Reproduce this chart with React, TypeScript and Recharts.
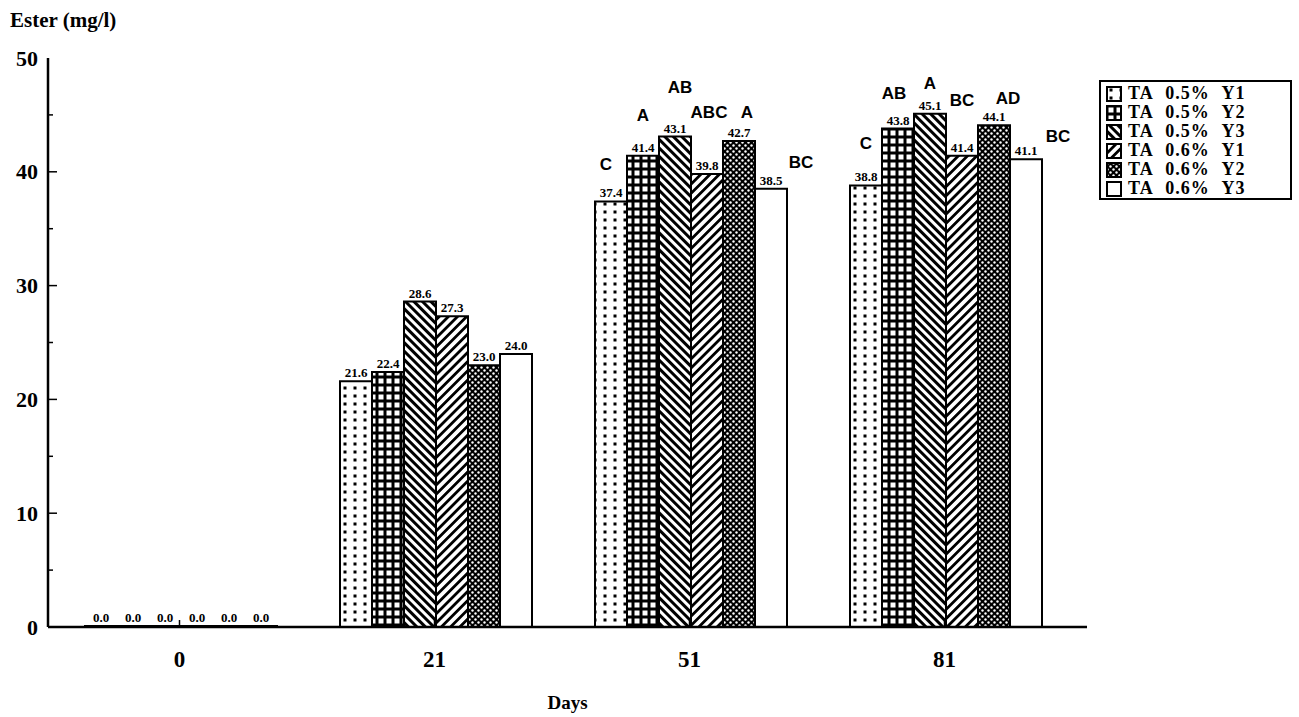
import React from 'react';
import { BarChart, Bar, XAxis, YAxis, LabelList } from 'recharts';

// ---- data ----
const days = ['0', '21', '51', '81'];
const seriesNames = ['TA 0.5% Y1', 'TA 0.5% Y2', 'TA 0.5% Y3', 'TA 0.6% Y1', 'TA 0.6% Y2', 'TA 0.6% Y3'];
const ta05Y1 = [0.0, 21.6, 37.4, 38.8];
const ta05Y2 = [0.0, 22.4, 41.4, 43.8];
const ta05Y3 = [0.0, 28.6, 43.1, 45.1];
const ta06Y1 = [0.0, 27.3, 39.8, 41.4];
const ta06Y2 = [0.0, 23.0, 42.7, 44.1];
const ta06Y3 = [0.0, 24.0, 38.5, 41.1];
const groups05Y1 = ['', '', 'C', 'C'];
const groups05Y2 = ['', '', 'A', 'AB'];
const groups05Y3 = ['', '', 'AB', 'A'];
const groups06Y1 = ['', '', 'ABC', 'BC'];
const groups06Y2 = ['', '', 'A', 'AD'];
const groups06Y3 = ['', '', 'BC', 'BC'];
const yTicks = [0, 5, 10, 15, 20, 25, 30, 35, 40, 45, 50];

const values = [ta05Y1, ta05Y2, ta05Y3, ta06Y1, ta06Y2, ta06Y3];
const letters = [groups05Y1, groups05Y2, groups05Y3, groups06Y1, groups06Y2, groups06Y3];

// annotation placement relative to bar top (dx, lift), keyed by day
const letterShift: Record<string, number[]>[] = [
  { '51': [-5, 37], '81': [0, 42] },
  { '51': [0, 40], '81': [-4, 35] },
  { '51': [5, 49], '81': [0, 30] },
  { '51': [2, 62], '81': [0, 55] },
  { '51': [8, 29], '81': [14, 27] },
  { '51': [30, 26], '81': [32, 23] },
];

const data = days.map((d, i) => {
  const row: any = { day: d };
  values.forEach((v, s) => {
    row['s' + s] = v[i];
    row['l' + s] = letters[s][i] ? d + '|' + letters[s][i] : '';
  });
  return row;
});

const SERIF = '"Liberation Serif", "Times New Roman", serif';
const SANS = '"Liberation Sans", Arial, sans-serif';

const Patterns = () => (
  <svg width={0} height={0} style={{ position: 'absolute' }}>
    <defs>
      <pattern id="pat0" patternUnits="userSpaceOnUse" width={10} height={8}>
        <rect width={10} height={8} fill="#fff" />
        <rect x={3.5} y={2.5} width={3} height={3} fill="#000" />
      </pattern>
      <pattern id="pat1" patternUnits="userSpaceOnUse" width={8} height={8}>
        <rect width={8} height={8} fill="#000" />
        <rect x={2.5} y={2.5} width={5} height={5} fill="#fff" />
      </pattern>
      <pattern id="pat2" patternUnits="userSpaceOnUse" width={6} height={6} patternTransform="rotate(-45)">
        <rect width={6} height={6} fill="#fff" />
        <rect width={3} height={6} fill="#000" />
      </pattern>
      <pattern id="pat3" patternUnits="userSpaceOnUse" width={6.5} height={6.5} patternTransform="rotate(45)">
        <rect width={6.5} height={6.5} fill="#fff" />
        <rect width={2.8} height={6.5} fill="#000" />
      </pattern>
      <pattern id="pat4" patternUnits="userSpaceOnUse" width={6} height={6}>
        <rect width={6} height={6} fill="#000" />
        <circle cx={1.5} cy={1.5} r={1.2} fill="#fff" />
        <circle cx={4.5} cy={4.5} r={1.2} fill="#fff" />
      </pattern>
      <pattern id="pat5" patternUnits="userSpaceOnUse" width={6} height={6}>
        <rect width={6} height={6} fill="#fff" />
      </pattern>
    </defs>
  </svg>
);

const YTick = (props: any) => {
  const { x, y, payload } = props;
  const axisX = x + 10;
  const v = payload.value;
  const major = v % 10 === 0;
  return (
    <g>
      {v !== 0 && v !== 50 && (
        <line x1={axisX} x2={axisX + (major ? 9 : 5)} y1={y} y2={y} stroke="#000" strokeWidth={1.5} />
      )}
      {major && (
        <text x={x} y={y} textAnchor="end" dominantBaseline="central" fontFamily={SERIF} fontWeight={700} fontSize={22} fill="#000">
          {v}
        </text>
      )}
    </g>
  );
};

const XTick = (props: any) => {
  const { x, y, payload } = props;
  const axisY = y - 24;
  return (
    <g>
      <line x1={x} x2={x} y1={axisY} y2={axisY - 7} stroke="#000" strokeWidth={1.5} />
      <text x={x} y={y} dy="0.71em" textAnchor="middle" fontFamily={SERIF} fontWeight={700} fontSize={23} fill="#000">
        {payload.value}
      </text>
    </g>
  );
};

const makeLetter = (s: number) => (props: any) => {
  const vb = props.viewBox || props;
  const val = props.value;
  if (!val) return null;
  const [day, txt] = String(val).split('|');
  const sh = letterShift[s][day] || [0, 36];
  const cx = vb.x + vb.width / 2 + sh[0];
  const cy = vb.y - sh[1];
  return (
    <text x={cx} y={cy} textAnchor="middle" dominantBaseline="central" fontFamily={SANS} fontWeight={700} fontSize={17} fill="#000">
      {txt}
    </text>
  );
};

const Legend = () => (
  <div
    style={{
      position: 'absolute',
      left: 1099,
      top: 80,
      width: 193,
      height: 120,
      border: '2px solid #000',
      background: '#fff',
      boxSizing: 'border-box',
      paddingTop: 2,
      paddingLeft: 5,
    }}
  >
    {seriesNames.map((n, i) => (
      <div key={n} style={{ display: 'flex', alignItems: 'center', height: 19, overflow: 'hidden' }}>
        <svg width={16} height={16} style={{ marginRight: 6, flex: 'none' }}>
          <rect x={1} y={1} width={14} height={14} fill={`url(#pat${i})`} stroke="#000" strokeWidth={2} />
        </svg>
        <div
          style={{
            fontFamily: SERIF,
            fontWeight: 700,
            fontSize: 18,
            height: 19,
            lineHeight: '19px',
            wordSpacing: 7,
            letterSpacing: 1,
            whiteSpace: 'pre',
          }}
        >
          {n}
        </div>
      </div>
    ))}
  </div>
);

export default function App() {
  return (
    <div style={{ position: 'absolute', left: 0, top: 0, width: 1299, height: 717, background: '#fff', overflow: 'hidden' }}>
      <Patterns />
      <div
        style={{
          position: 'absolute',
          left: 10,
          top: 8,
          fontFamily: SERIF,
          fontWeight: 700,
          fontSize: 21,
          color: '#000',
          whiteSpace: 'nowrap',
        }}
      >
        Ester (mg/l)
      </div>
      <BarChart
        width={1299}
        height={717}
        data={data}
        margin={{ top: 58, right: 212, left: 0, bottom: 10 }}
        barCategoryGap={33}
        barGap={0}
      >
        <XAxis
          dataKey="day"
          xAxisId="top"
          orientation="top"
          height={0}
          tick={false}
          tickLine={false}
          axisLine={{ stroke: '#000', strokeWidth: 2.5 }}
        />
        <YAxis
          yAxisId="right"
          orientation="right"
          width={0}
          domain={[0, 50]}
          tick={false}
          tickLine={false}
          axisLine={{ stroke: '#000', strokeWidth: 2.5 }}
        />
        <XAxis
          dataKey="day"
          height={80}
          padding={{ left: 4, right: 15 }}
          tickLine={false}
          tickSize={0}
          tickMargin={24}
          tick={<XTick />}
          axisLine={{ stroke: '#000', strokeWidth: 2.5 }}
          label={{
            value: 'Days',
            position: 'insideBottom',
            offset: -2,
            style: { fontFamily: SERIF, fontWeight: 700, fontSize: 19, fill: '#000' },
          }}
        />
        <YAxis
          width={48}
          domain={[0, 50]}
          ticks={yTicks}
          interval={0}
          tickLine={false}
          tickSize={0}
          tickMargin={10}
          tick={<YTick />}
          axisLine={{ stroke: '#000', strokeWidth: 2.5 }}
        />
        {seriesNames.map((n, s) => (
          <Bar
            key={n}
            name={n}
            dataKey={'s' + s}
            fill={`url(#pat${s})`}
            stroke="#000"
            strokeWidth={2}
            minPointSize={1}
            isAnimationActive={false}
          >
            <LabelList
              dataKey={'s' + s}
              position="top"
              offset={4}
              formatter={(v: any) => Number(v).toFixed(1)}
              style={{ fontFamily: SERIF, fontWeight: 700, fontSize: 13, fill: '#000' }}
            />
            <LabelList dataKey={'l' + s} content={makeLetter(s)} />
          </Bar>
        ))}
      </BarChart>
      <Legend />
    </div>
  );
}
